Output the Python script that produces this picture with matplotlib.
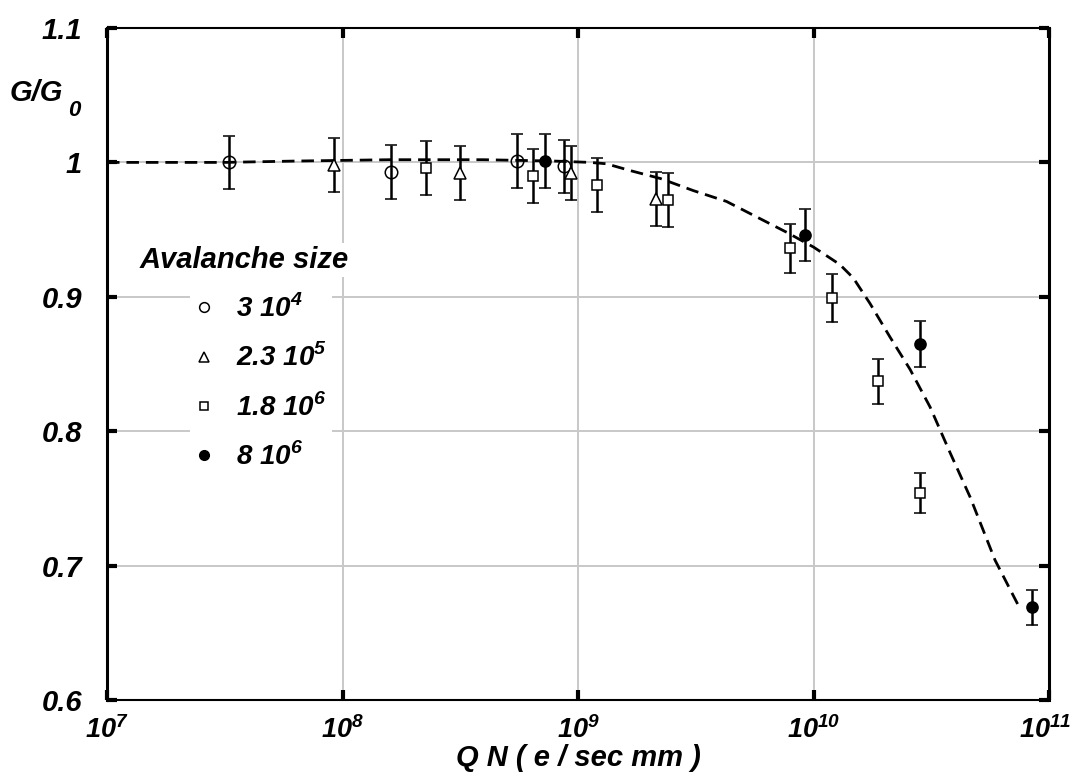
import matplotlib.pyplot as plt
from matplotlib.lines import Line2D
from matplotlib.ticker import NullLocator
from matplotlib.transforms import ScaledTranslation
import numpy as np

plt.rcParams['font.family'] = ['Liberation Sans', 'DejaVu Sans']
plt.rcParams['font.weight'] = 'bold'
plt.rcParams['font.style'] = 'italic'

# avalanche size 3 10^4 (open circles)
qn_a = [3.3e7, 1.6e8, 5.5e8, 8.7e8]
g_a = [1.000, 0.993, 1.001, 0.997]
err_a = [0.020, 0.020, 0.020, 0.020]

# avalanche size 2.3 10^5 (open triangles)
qn_b = [9.2e7, 3.16e8, 9.3e8, 2.14e9]
g_b = [0.998, 0.992, 0.992, 0.973]
err_b = [0.020, 0.020, 0.020, 0.020]

# avalanche size 1.8 10^6 (open squares)
qn_c = [2.27e8, 6.46e8, 1.2e9, 2.4e9, 7.94e9, 1.2e10, 1.88e10, 2.83e10]
g_c = [0.996, 0.990, 0.983, 0.972, 0.936, 0.899, 0.837, 0.754]
err_c = [0.020, 0.020, 0.020, 0.020, 0.018, 0.018, 0.017, 0.015]

# avalanche size 8 10^6 (filled circles)
qn_d = [7.26e8, 9.2e9, 2.83e10, 8.45e10]
g_d = [1.001, 0.946, 0.865, 0.669]
err_d = [0.020, 0.019, 0.017, 0.013]

# dashed model curve, log10(QN) vs G/G0
curve_logx = [7.0, 7.5, 7.8, 8.2, 8.6, 8.9, 9.05, 9.12, 9.22, 9.35, 9.49, 9.63,
              9.73, 9.886, 10.0, 10.112, 10.169, 10.24, 10.325, 10.41, 10.495,
              10.58, 10.665, 10.771, 10.868]
curve_g = [1.000, 1.000, 1.001, 1.002, 1.002, 1.001, 1.000, 0.999, 0.994, 0.988,
           0.979, 0.971, 0.962, 0.948, 0.937, 0.924, 0.914, 0.895, 0.870, 0.846,
           0.818, 0.784, 0.751, 0.704, 0.671]

legend_labels = [r'3 10$^{\mathdefault{4}}$', r'2.3 10$^{\mathdefault{5}}$',
                 r'1.8 10$^{\mathdefault{6}}$', r'8 10$^{\mathdefault{6}}$']

fig = plt.figure(figsize=(10.74, 7.77), dpi=100)
ax = fig.add_axes([107/1074, 1-700/777, (1049-107)/1074, (700-28)/777])

ax.plot(10**np.array(curve_logx), curve_g, color='black', lw=2.0,
        dashes=(4.5, 2.5), zorder=2)

eb = dict(ecolor='black', elinewidth=1.8, capsize=4.5, capthick=1.8,
          linestyle='none', mec='black', mew=1.1, zorder=3)
ax.errorbar(qn_a, g_a, yerr=err_a, marker='o', ms=9, mfc='none', **eb)
ax.errorbar(qn_b, g_b, yerr=err_b, marker='^', ms=9, mfc='white', **eb)
ax.errorbar(qn_c, g_c, yerr=err_c, marker='s', ms=7, mfc='white', **eb)
ax.errorbar(qn_d, g_d, yerr=err_d, marker='o', ms=8, mfc='black', **eb)

ax.set_xscale('log')
ax.set_xlim(1e7, 1e11)
ax.set_ylim(0.6, 1.1)
ax.set_xticks([1e7, 1e8, 1e9, 1e10, 1e11])
ax.set_xticklabels([r'10$^{\mathdefault{%d}}$' % k for k in range(7, 12)])
ax.xaxis.set_minor_locator(NullLocator())
ax.set_yticks([0.6, 0.7, 0.8, 0.9, 1.0, 1.1])
ax.set_yticklabels(['0.6', '0.7', '0.8', '0.9', '1', '1.1'])

ax.grid(True, color='#c8c8c8', lw=1.4)
ax.set_axisbelow(True)
ax.tick_params(which='major', direction='in', length=7, width=3,
               top=True, right=True)
ax.tick_params(axis='y', pad=18, labelsize=21)
ax.tick_params(axis='x', pad=12, labelsize=19.5)
for side in ['left', 'right']:
    ax.spines[side].set_linewidth(2.2)
for side in ['top', 'bottom']:
    ax.spines[side].set_linewidth(1.5)

# keep the last decade label inside the figure
last = ax.get_xticklabels()[-1]
last.set_transform(last.get_transform() + ScaledTranslation(-3/72, 0, fig.dpi_scale_trans))

fig.text(578/1074, 1-766/777, 'Q N ( e / sec mm )', ha='center',
         va='baseline', fontsize=21)
fig.text(10/1074, 1-101/777, 'G/G', ha='left', va='baseline', fontsize=21)
fig.text(68/1074, 1-116/777, '0', ha='left', va='baseline', fontsize=16)

fig.text(140/1074, 1-268/777, 'Avalanche size', ha='left', va='baseline',
         fontsize=21, bbox=dict(facecolor='white', edgecolor='none', pad=2))

handles = [
    Line2D([], [], ls='none', marker='o', ms=7, mfc='none', mec='black', mew=1.1),
    Line2D([], [], ls='none', marker='^', ms=7, mfc='none', mec='black', mew=1.1),
    Line2D([], [], ls='none', marker='s', ms=6, mfc='none', mec='black', mew=1.1),
    Line2D([], [], ls='none', marker='o', ms=7, mfc='black', mec='black'),
]
leg = ax.legend(handles, legend_labels, loc='upper left',
                bbox_to_anchor=(190/1074, 1-289/777),
                bbox_transform=fig.transFigure, fontsize=20, frameon=True,
                facecolor='white', edgecolor='none', framealpha=1,
                handlelength=0.6, handletextpad=0.85, labelspacing=0.75,
                borderpad=0.2, borderaxespad=0)

fig.savefig('out.png', dpi=100)
